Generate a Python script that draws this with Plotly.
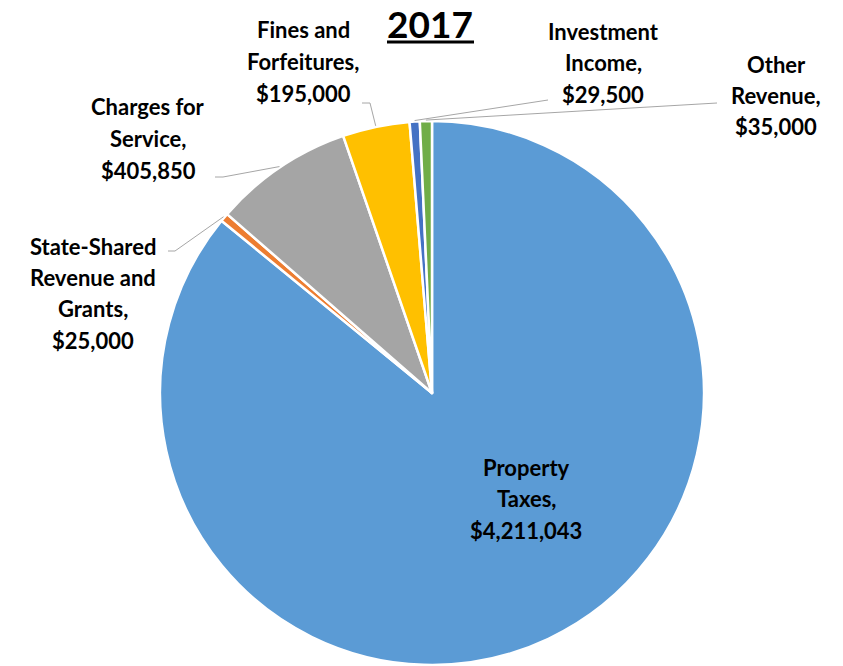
import numpy as np
import plotly.graph_objects as go

# revenue sources, clockwise from 12 o'clock
categories = ["Property Taxes", "State-Shared Revenue and Grants", "Charges for Service",
              "Fines and Forfeitures", "Investment Income", "Other Revenue"]
amounts = [4211043, 25000, 405850, 195000, 29500, 35000]
label_lines = [
    ["Property", "Taxes,", "$4,211,043"],
    ["State-Shared", "Revenue and", "Grants,", "$25,000"],
    ["Charges for", "Service,", "$405,850"],
    ["Fines and", "Forfeitures,", "$195,000"],
    ["Investment", "Income,", "$29,500"],
    ["Other", "Revenue,", "$35,000"],
]
colors = ["#5B9BD5", "#ED7D31", "#A5A5A5", "#FFC000", "#4472C4", "#70AD47"]

W, H = 843, 666
cx, cy, R = 432, 393, 272

# label block centres (px) and leader-line elbow (px), None = label inside slice
label_pos = [(526, 467), (93, 246), (148, 107), (303, 30), (603, 31), (776, 64)]
elbows = [None, [(175, 251), (168, 251)], [(223, 177), (215, 177)],
          [(370, 103), (362, 103)], [(548, 100)], [(717, 103)]]
LINE_H = 31.5

def px(x, y):
    return x / W, 1 - y / H

fig = go.Figure(go.Pie(
    labels=categories, values=amounts, sort=False, direction="clockwise", rotation=0,
    marker=dict(colors=colors, line=dict(color="white", width=2.5)),
    textinfo="none", hoverinfo="label+value", showlegend=False,
    domain=dict(x=[(cx - R) / W, (cx + R) / W], y=[1 - (cy + R) / H, 1 - (cy - R) / H]),
))

# leader lines from slice mid-angle on the rim
vals = np.array(amounts, dtype=float)
ends = np.cumsum(vals) / vals.sum() * 360
starts = ends - vals / vals.sum() * 360
mids = np.radians((starts + ends) / 2)
shapes = []
for i, el in enumerate(elbows):
    if el is None:
        continue
    pts = [(cx + (R + 1) * np.sin(mids[i]), cy - (R + 1) * np.cos(mids[i]))] + el
    for (x0, y0), (x1, y1) in zip(pts[:-1], pts[1:]):
        a, b = px(x0, y0)
        c, d = px(x1, y1)
        shapes.append(dict(type="line", xref="paper", yref="paper", x0=a, y0=b, x1=c, y1=d,
                           line=dict(color="#A6A6A6", width=1)))

annotations = []
for (lx, ly), lines in zip(label_pos, label_lines):
    for k, t in enumerate(lines):
        x, y = px(lx, ly + k * LINE_H)
        annotations.append(dict(text="<b>" + t + "</b>", x=x, y=y, xref="paper", yref="paper",
                                showarrow=False, xanchor="center", yanchor="middle",
                                font=dict(family="Lato", size=22, color="black")))

tx, ty = px(430, 24)
annotations.append(dict(text="<b>2017</b>", x=tx, y=ty, xref="paper", yref="paper",
                        showarrow=False, xanchor="center", yanchor="middle",
                        font=dict(family="Lato", size=37, color="black")))
ux0, uy = px(387, 42)
ux1, _ = px(474, 42)
shapes.append(dict(type="line", xref="paper", yref="paper", x0=ux0, y0=uy, x1=ux1, y1=uy,
                   line=dict(color="black", width=3)))

fig.update_layout(width=W, height=H, margin=dict(l=0, r=0, t=0, b=0),
                  paper_bgcolor="white", plot_bgcolor="white",
                  shapes=shapes, annotations=annotations)

# drop the page's default body margin so the figure sits at the window origin
fig.write_html("out.html", config={"displayModeBar": False},
               post_script="document.body.style.margin='0';")
